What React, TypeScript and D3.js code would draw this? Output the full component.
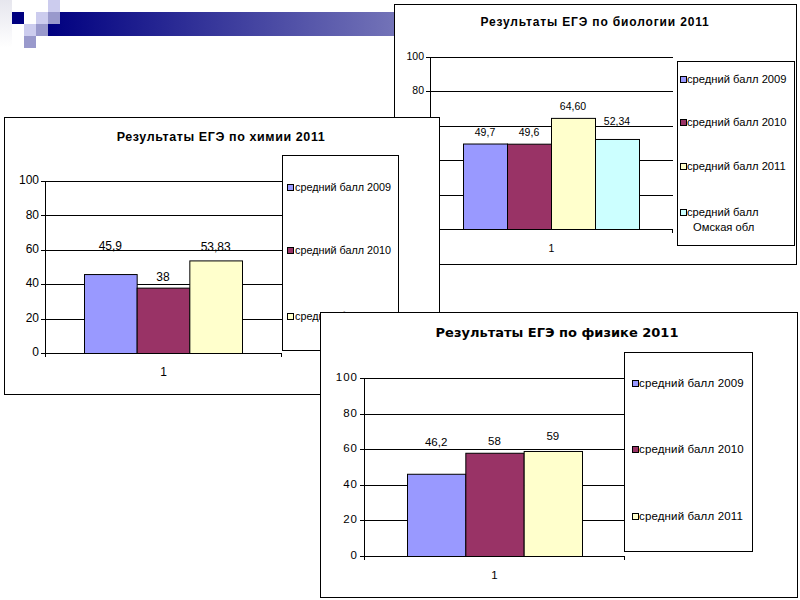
import React from "react";
import * as d3 from "d3";

// ---- data ----
const categories = ["1"];
const bioSeries = ["средний балл 2009", "средний балл 2010", "средний балл 2011", "средний балл Омская обл"];
const bioValues = [49.7, 49.6, 64.6, 52.34];
const bioLabels = ["49,7", "49,6", "64,60", "52,34"];
const chemSeries = ["средний балл 2009", "средний балл 2010", "средний балл 2011"];
const chemValues = [45.9, 38, 53.83];
const chemLabels = ["45,9", "38", "53,83"];
const physSeries = ["средний балл 2009", "средний балл 2010", "средний балл 2011"];
const physValues = [46.2, 58, 59];
const physLabels = ["46,2", "58", "59"];
const yTicks = [0, 20, 40, 60, 80, 100];

const colors = ["#9999ff", "#993366", "#ffffcc", "#ccffff"];
const FONT = "'Liberation Sans', Arial, sans-serif";

type Cfg = {
  box: [number, number, number, number];
  title: string;
  titleX: number;
  titleY: number;
  titleSize: number;
  titleSpacing: number;
  titleFont: string;
  axisX: number;
  gridEnd: number;
  yTop: number;
  yBottom: number;
  barStart: number;
  barEnd: number;
  legend: [number, number, number, number];
  legendYs: number[][];
  legendSize: number;
  legendSpacing: number;
  markerDx: number;
  textDx: number;
  tickSize: number;
  tickSpacing: number;
  labelLift: number[];
  series: string[];
  values: number[];
  labels: string[];
  legendLines: string[][];
};

function Chart({ c }: { c: Cfg }) {
  const y = d3.scaleLinear().domain([0, 100]).range([c.yBottom, c.yTop]);
  const xb = d3.scaleBand<string>().domain(c.series).range([c.barStart, c.barEnd]).paddingInner(0);
  const xc = d3.scaleBand<string>().domain(categories).range([c.axisX, c.gridEnd]);
  const [bx, by, bw, bh] = c.box;
  const [lx, ly, lw, lh] = c.legend;
  return (
    <g fontFamily={FONT}>
      <rect x={bx + 0.5} y={by + 0.5} width={bw} height={bh} fill="#fff" stroke="#000" strokeWidth={1} />
      <text x={c.titleX} y={c.titleY} textAnchor="middle" dominantBaseline="middle" fontWeight="bold"
        fontFamily={c.titleFont} fontSize={c.titleSize} letterSpacing={c.titleSpacing}>{c.title}</text>
      {yTicks.map((t) => (
        <g key={t}>
          {t > 0 && <line x1={c.axisX} x2={c.gridEnd} y1={Math.round(y(t)) + 0.5} y2={Math.round(y(t)) + 0.5} stroke="#000" />}
          <line x1={c.axisX - 4} x2={c.axisX} y1={Math.round(y(t)) + 0.5} y2={Math.round(y(t)) + 0.5} stroke="#000" />
          <text x={c.axisX - 6} y={y(t)} textAnchor="end" dominantBaseline="middle" fontSize={c.tickSize}
            letterSpacing={c.tickSpacing}>{t}</text>
        </g>
      ))}
      {c.series.map((s, i) => (
        <rect key={s} x={xb(s)! + 0.5} y={y(c.values[i]) + 0.5} width={xb.bandwidth()} height={y(0) - y(c.values[i])}
          fill={colors[i]} stroke="#000" strokeWidth={1} />
      ))}
      {c.series.map((s, i) => (
        <text key={"l" + s} x={xb(s)! + xb.bandwidth() / 2} y={y(c.values[i]) - c.labelLift[i]} textAnchor="middle"
          dominantBaseline="middle" fontSize={c.tickSize}>{c.labels[i]}</text>
      ))}
      <line x1={c.axisX + 0.5} x2={c.axisX + 0.5} y1={c.yTop} y2={c.yBottom + 4} stroke="#000" />
      <line x1={c.axisX} x2={c.gridEnd} y1={Math.round(y(0)) + 0.5} y2={Math.round(y(0)) + 0.5} stroke="#000" />
      <line x1={c.gridEnd - 0.5} x2={c.gridEnd - 0.5} y1={c.yBottom} y2={c.yBottom + 4} stroke="#000" />
      {categories.map((cat) => (
        <text key={cat} x={xc(cat)! + xc.bandwidth() / 2} y={c.yBottom + 20} textAnchor="middle" dominantBaseline="middle"
          fontSize={c.tickSize}>{cat}</text>
      ))}
      <rect x={lx + 0.5} y={ly + 0.5} width={lw} height={lh} fill="#fff" stroke="#000" />
      {c.legendLines.map((lines, i) => (
        <g key={i}>
          <rect x={lx + c.markerDx + 0.5} y={c.legendYs[i][0] - 3.5} width={6} height={6} fill={colors[i]} stroke="#000" />
          {lines.map((ln, j) => (
            <text key={j} x={lx + c.textDx + (j > 0 ? 6 : 0)} y={c.legendYs[i][j]} dominantBaseline="middle"
              fontSize={c.legendSize} letterSpacing={c.legendSpacing}>{ln}</text>
          ))}
        </g>
      ))}
    </g>
  );
}

const bio: Cfg = {
  box: [394, 4, 402, 260],
  title: "Результаты ЕГЭ по биологии 2011",
  titleX: 595, titleY: 23, titleSize: 12, titleSpacing: 0.85, titleFont: FONT,
  axisX: 430, gridEnd: 673, yTop: 57, yBottom: 229,
  barStart: 463, barEnd: 639,
  legend: [677, 61, 117, 184],
  legendYs: [[80], [123], [167], [213, 228]],
  legendSize: 11.2, legendSpacing: 0,
  markerDx: 3, textDx: 10,
  tickSize: 10.5, tickSpacing: 0,
  labelLift: [10, 10, 11, 17],
  series: bioSeries, values: bioValues, labels: bioLabels,
  legendLines: [["средний балл 2009"], ["средний балл 2010"], ["средний балл 2011"], ["средний балл", "Омская обл"]],
};

const chem: Cfg = {
  box: [4, 117, 435, 277],
  title: "Результаты ЕГЭ по химии 2011",
  titleX: 221, titleY: 138, titleSize: 12.5, titleSpacing: 0.6, titleFont: FONT,
  axisX: 45, gridEnd: 282, yTop: 181, yBottom: 353,
  barStart: 84, barEnd: 242,
  legend: [282, 155, 116, 195],
  legendYs: [[188], [251], [317]],
  legendSize: 10.8, legendSpacing: 0,
  markerDx: 5, textDx: 13,
  tickSize: 12, tickSpacing: 0,
  labelLift: [27, 10, 13],
  series: chemSeries, values: chemValues, labels: chemLabels,
  legendLines: [["средний балл 2009"], ["средний балл 2010"], ["средний балл 2011"]],
};

const phys: Cfg = {
  box: [320, 312, 477, 285],
  title: "Результаты ЕГЭ по физике 2011",
  titleX: 557, titleY: 333, titleSize: 13, titleSpacing: 0, titleFont: "'DejaVu Sans', Verdana, sans-serif",
  axisX: 364, gridEnd: 625, yTop: 378, yBottom: 556,
  barStart: 407, barEnd: 582,
  legend: [624, 352, 128, 199],
  legendYs: [[384], [450], [517]],
  legendSize: 11.5, legendSpacing: 0.15,
  markerDx: 8, textDx: 15,
  tickSize: 11.5, tickSpacing: 1,
  labelLift: [31, 11, 14],
  series: physSeries, values: physValues, labels: physLabels,
  legendLines: [["средний балл 2009"], ["средний балл 2010"], ["средний балл 2011"]],
};

export default function App() {
  return (
    <svg width={800} height={600} style={{ position: "absolute", left: 0, top: 0, background: "#fff" }}>
      <defs>
        <linearGradient id="hdr" x1="0" x2="1" y1="0" y2="0">
          <stop offset="0" stopColor="#000080" />
          <stop offset="1" stopColor="#7474b8" />
        </linearGradient>
        <linearGradient id="fade" x1="0" x2="0" y1="0" y2="1">
          <stop offset="0" stopColor="#e6e6ee" />
          <stop offset="1" stopColor="#ffffff" />
        </linearGradient>
      </defs>
      <rect x={0} y={0} width={12} height={48} fill="url(#fade)" />
      <rect x={48} y={12} width={350} height={24} fill="url(#hdr)" />
      <rect x={12} y={12} width={12} height={12} fill="#000080" />
      <rect x={36} y={12} width={12} height={12} fill="#ccccee" />
      <rect x={48} y={0} width={12} height={12} fill="#ccccee" />
      <rect x={48} y={12} width={12} height={12} fill="#9999cc" />
      <rect x={24} y={24} width={12} height={12} fill="#ccccee" />
      <rect x={36} y={24} width={12} height={12} fill="#9999cc" />
      <rect x={24} y={36} width={12} height={12} fill="#9999cc" />
      <Chart c={bio} />
      <Chart c={chem} />
      <Chart c={phys} />
    </svg>
  );
}
